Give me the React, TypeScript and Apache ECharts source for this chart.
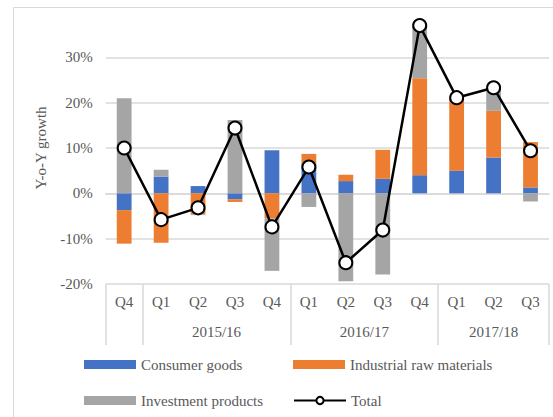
import React, { useEffect, useRef } from "react";
import * as echarts from "echarts";

const quarters = ["Q4", "Q1", "Q2", "Q3", "Q4", "Q1", "Q2", "Q3", "Q4", "Q1", "Q2", "Q3"];
const years = ["", "2015/16", "2016/17", "2017/18"];
const yearGroupSizes = [1, 4, 4, 3];

const consumerGoods = [-3.7, 3.7, 1.6, -1.3, 9.5, 6.6, 2.7, 3.2, 4.0, 5.0, 7.9, 1.3];
const industrialRaw = [-7.4, -10.9, -4.6, -0.6, -5.5, 2.1, 1.4, 6.4, 21.4, 16.0, 10.3, 10.0];
const investmentProducts = [21.0, 1.5, -0.2, 16.2, -11.6, -3.0, -19.4, -17.9, 11.9, 0.1, 5.0, -1.8];
const totalGrowth = [10.0, -5.8, -3.2, 14.4, -7.4, 5.8, -15.3, -8.1, 37.0, 21.1, 23.3, 9.4];

const FONT = "Liberation Serif";
const TEXT = "#595959";
const GRID = "#d9d9d9";

export default function App() {
  const ref = useRef<HTMLDivElement>(null);
  useEffect(() => {
    if (!ref.current) return;
    document.body.style.margin = "0";
    const chart = echarts.init(ref.current, undefined, { renderer: "svg" });

    // year axis: half-category points (2 per quarter + 1)
    const bounds: number[] = [0];
    yearGroupSizes.forEach((s) => bounds.push(bounds[bounds.length - 1] + s));
    const nPts = bounds[bounds.length - 1] * 2 + 1;
    const yearAxisData: string[] = new Array(nPts).fill("");
    const tickIdx = bounds.map((b) => b * 2);
    years.forEach((y, i) => {
      yearAxisData[bounds[i] + bounds[i + 1]] = y;
    });

    const legendBase = {
      itemWidth: 52,
      itemHeight: 9,
      itemGap: 0,
      textStyle: { fontFamily: FONT, fontSize: 15, color: TEXT },
      selectedMode: false,
    };

    chart.setOption({
      animation: false,
      textStyle: { fontFamily: FONT },
      graphic: [
        {
          type: "rect",
          shape: { x: 13.5, y: 7.5, width: 700, height: 600 },
          style: { fill: "none", stroke: GRID, lineWidth: 1 },
          silent: true,
          z: -10,
        },
      ],
      grid: { left: 105.7, right: 4, top: 12, bottom: 133, containLabel: false },
      legend: [
        { ...legendBase, data: [{ name: "Consumer goods", icon: "rect" }], left: 79, top: 352 },
        { ...legendBase, data: [{ name: "Industrial raw materials", icon: "rect" }], left: 288, top: 352 },
        { ...legendBase, data: [{ name: "Investment products", icon: "rect" }], left: 79, top: 388 },
        { ...legendBase, data: ["Total"], left: 288, top: 388 },
      ],
      xAxis: [
        {
          type: "category",
          data: quarters,
          position: "bottom",
          axisLine: { show: true, lineStyle: { color: GRID, width: 1.5 } },
          axisTick: { show: false },
          axisLabel: { color: TEXT, fontFamily: FONT, fontSize: 15, margin: 10, interval: 0 },
        },
        {
          type: "category",
          data: yearAxisData,
          boundaryGap: false,
          position: "bottom",
          axisLine: { show: false },
          axisTick: {
            show: true,
            length: 61,
            interval: (i: number) => tickIdx.includes(i),
            lineStyle: { color: GRID, width: 1.5 },
          },
          axisLabel: {
            color: TEXT,
            fontFamily: FONT,
            fontSize: 15,
            margin: 40,
            interval: 0,
          },
        },
      ],
      yAxis: {
        type: "value",
        min: -20,
        max: 40,
        interval: 10,
        name: "Y-o-Y growth",
        nameLocation: "middle",
        nameRotate: 90,
        nameGap: 57,
        nameTextStyle: { color: TEXT, fontFamily: FONT, fontSize: 15 },
        axisLine: { show: false },
        axisTick: { show: false },
        axisLabel: {
          color: TEXT,
          fontFamily: FONT,
          fontSize: 15,
          margin: 13,
          showMaxLabel: false,
          formatter: (v: number) => (v > 30 ? "" : `${v}%`),
        },
        splitLine: { show: true, showMaxLine: false, lineStyle: { color: GRID, width: 1.5 } },
      },
      series: [
        {
          name: "Consumer goods",
          type: "bar",
          stack: "g",
          data: consumerGoods,
          barWidth: "40%",
          itemStyle: { color: "#4472C4" },
        },
        {
          name: "Industrial raw materials",
          type: "bar",
          stack: "g",
          data: industrialRaw,
          itemStyle: { color: "#ED7D31" },
        },
        {
          name: "Investment products",
          type: "bar",
          stack: "g",
          data: investmentProducts,
          itemStyle: { color: "#A5A5A5" },
        },
        {
          name: "Total",
          type: "line",
          data: totalGrowth,
          symbol: "circle",
          symbolSize: 13,
          lineStyle: { color: "#000", width: 2.5 },
          itemStyle: { color: "#fff", borderColor: "#000", borderWidth: 2 },
          z: 5,
        },
      ],
    });
    return () => chart.dispose();
  }, []);
  return <div ref={ref} style={{ width: 553, height: 417 }} />;
}
